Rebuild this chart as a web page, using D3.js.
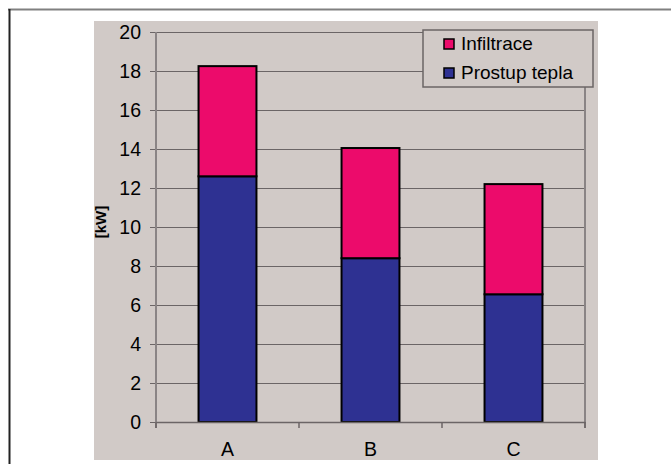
<!DOCTYPE html>
<html><head><meta charset="utf-8">
<script src="https://cdn.jsdelivr.net/npm/d3@7/dist/d3.min.js"></script>
<style>html,body{margin:0;padding:0;background:#fff;}svg{display:block;}</style>
</head><body>
<script>
const categories = ["A", "B", "C"];
const prostupTepla = [12.6, 8.4, 6.55];
const totals = [18.25, 14.05, 12.2];
const yTicks = [0, 2, 4, 6, 8, 10, 12, 14, 16, 18, 20];
const seriesNames = ["Infiltrace", "Prostup tepla"];
const colors = {"Infiltrace": "#EC0B6B", "Prostup tepla": "#2E3192"};

const W = 671, H = 464;
const svg = d3.select("body").append("svg").attr("width", W).attr("height", H);
const font = "'Liberation Sans', Arial, sans-serif";

// outer frame lines
svg.append("line").attr("x1", 8).attr("x2", W).attr("y1", 9.5).attr("y2", 9.5).attr("stroke", "#808080").attr("stroke-width", 2);
svg.append("line").attr("x1", 9.5).attr("x2", 9.5).attr("y1", 9).attr("y2", H).attr("stroke", "#222").attr("stroke-width", 2);

// chart background panel
svg.append("rect").attr("x", 94).attr("y", 21).attr("width", 504).attr("height", 439).attr("fill", "#D1CAC7");

const x = d3.scaleBand().domain(categories).range([156, 585]);
const y = d3.scaleLinear().domain([0, 20]).range([422, 32]);
const barW = x.bandwidth() * 0.405;

// gridlines
svg.append("g").selectAll("line").data(yTicks.filter(d => d > 0)).join("line")
  .attr("x1", 156).attr("x2", 585).attr("y1", d => Math.round(y(d)) + 0.5).attr("y2", d => Math.round(y(d)) + 0.5)
  .attr("stroke", "#6b6566").attr("stroke-width", 1);

// right plot border
svg.append("line").attr("x1", 585).attr("x2", 585).attr("y1", y(20)).attr("y2", 428).attr("stroke", "#8a8485").attr("stroke-width", 2);

// stacked data
const stackData = categories.map((c, i) => ({cat: c, "Prostup tepla": prostupTepla[i], "Infiltrace": totals[i] - prostupTepla[i]}));
const stack = d3.stack().keys(["Prostup tepla", "Infiltrace"])(stackData);
stack.forEach(s => {
  svg.append("g").selectAll("rect").data(s).join("rect")
    .attr("x", d => x(d.data.cat) + (x.bandwidth() - barW) / 2)
    .attr("y", d => y(d[1]))
    .attr("width", barW)
    .attr("height", d => y(d[0]) - y(d[1]))
    .attr("fill", colors[s.key])
    .attr("stroke", "#000").attr("stroke-width", 2);
});

// y axis
const yAxis = d3.axisLeft(y).tickValues(yTicks).tickSize(6).tickPadding(9).tickSizeOuter(0);
const gy = svg.append("g").attr("transform", "translate(156,0)").call(yAxis)
  .attr("font-family", font).attr("font-size", 19.5);
gy.select(".domain").remove();
gy.append("line").attr("x1", 0).attr("x2", 0).attr("y1", y(20)).attr("y2", 428).attr("stroke", "#8a8485").attr("stroke-width", 2);
gy.selectAll(".tick line").attr("stroke", "#6b6566");
gy.selectAll(".tick text").attr("fill", "#000");

// x axis
const xAxis = d3.axisBottom(x).tickSize(0).tickPadding(20);
const gx = svg.append("g").attr("transform", "translate(0,422)").call(xAxis)
  .attr("font-family", font).attr("font-size", 19.5);
gx.select(".domain").attr("stroke", "#6b6566").attr("stroke-width", 1.5);
gx.selectAll(".tick text").attr("fill", "#000");
// category boundary ticks
svg.append("g").selectAll("line").data(x.domain().map(c => x(c)).concat([x.range()[1]])).join("line")
  .attr("x1", d => d).attr("x2", d => d).attr("y1", 422).attr("y2", 428)
  .attr("stroke", "#6b6566").attr("stroke-width", 1.5);

// y label
svg.append("text").attr("transform", "translate(106,222) rotate(-90)")
  .attr("text-anchor", "middle").attr("font-family", font).attr("font-weight", "bold").attr("font-size", 15)
  .text("[kW]");

// legend
const lg = svg.append("g");
lg.append("rect").attr("x", 423).attr("y", 30).attr("width", 170).attr("height", 57)
  .attr("fill", "#D1CAC7").attr("stroke", "#6b6566").attr("stroke-width", 1.5);
seriesNames.forEach((n, i) => {
  const yy = 39 + i * 29;
  lg.append("rect").attr("x", 444).attr("y", yy).attr("width", 10).attr("height", 10)
    .attr("fill", colors[n]).attr("stroke", "#000").attr("stroke-width", 1.5);
  lg.append("text").attr("x", 461).attr("y", yy + 11).attr("font-family", font).attr("font-size", 19)
    .text(n);
});
</script>
</body></html>
